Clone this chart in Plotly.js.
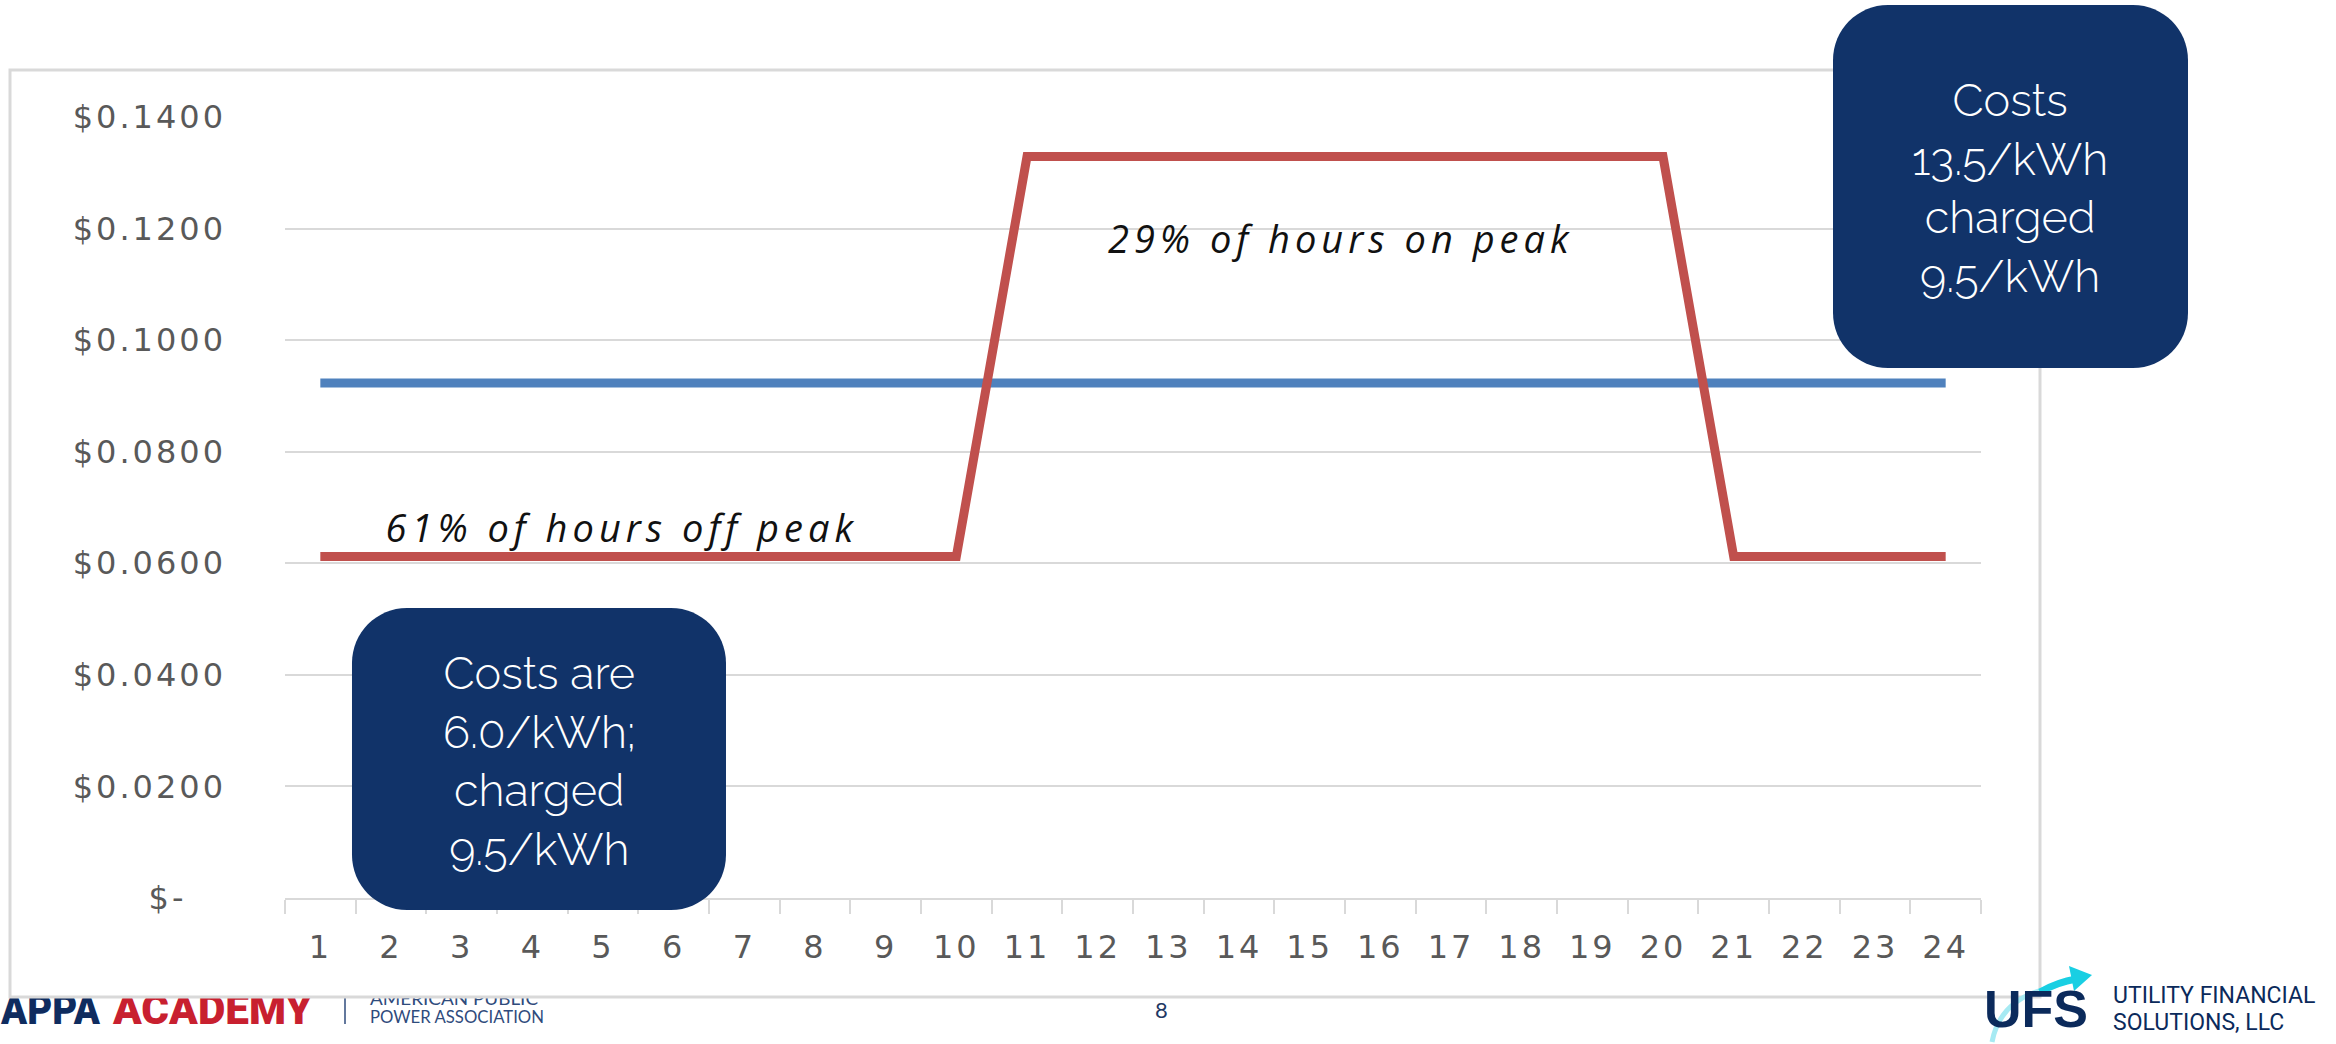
<!DOCTYPE html>
<html><head><meta charset="utf-8">
<script src="https://cdn.plot.ly/plotly-3.0.1.min.js"></script>
<style>
html,body{margin:0;padding:0;background:#fff;overflow:hidden}
#bg{position:absolute;left:0;top:0;z-index:0}
#chart{position:absolute;left:0;top:0;width:2336px;height:1044px;z-index:1}
.xtick text,.ytick text{letter-spacing:3px}
.annotation[data-index="0"] text,.annotation[data-index="1"] text{letter-spacing:5px}
</style></head><body>
<svg id="bg" width="2336" height="1044" xmlns="http://www.w3.org/2000/svg">
<text x="1" y="1024" font-family="Roboto, 'Liberation Sans', sans-serif" font-weight="900" font-size="42" fill="#0F2C5F" textLength="99" lengthAdjust="spacingAndGlyphs">APPA</text>
<text x="113" y="1024" font-family="Roboto, 'Liberation Sans', sans-serif" font-weight="900" font-size="42" fill="#C8202F" textLength="199" lengthAdjust="spacingAndGlyphs">ACADEMY</text>
<line x1="345" y1="996" x2="345" y2="1024" stroke="#2F4B7C" stroke-width="1.5"/>
<text x="370" y="1005" font-family="Lato, sans-serif" font-size="18" fill="#2F4B7C" textLength="168" lengthAdjust="spacingAndGlyphs">AMERICAN PUBLIC</text>
<text x="370" y="1023" font-family="Lato, sans-serif" font-size="18" fill="#2F4B7C" textLength="174" lengthAdjust="spacingAndGlyphs">POWER ASSOCIATION</text>
</svg>
<div id="chart"></div>
<script>
// ---- data ----
const hours = ['1','2','3','4','5','6','7','8','9','10','11','12','13','14','15','16','17','18','19','20','21','22','23','24'];
const flatRate = [0.0923,0.0923,0.0923,0.0923,0.0923,0.0923,0.0923,0.0923,0.0923,0.0923,0.0923,0.0923,0.0923,0.0923,0.0923,0.0923,0.0923,0.0923,0.0923,0.0923,0.0923,0.0923,0.0923,0.0923];
const touRate = [0.0612,0.0612,0.0612,0.0612,0.0612,0.0612,0.0612,0.0612,0.0612,0.0612,0.1329,0.1329,0.1329,0.1329,0.1329,0.1329,0.1329,0.1329,0.1329,0.1329,0.0612,0.0612,0.0612,0.0612];
const yTickVals = [0,0.02,0.04,0.06,0.08,0.10,0.12,0.14];
const yTickText = ['$-\u00a0\u00a0\u00a0','$0.0200','$0.0400','$0.0600','$0.0800','$0.1000','$0.1200','$0.1400'];
const offPeakLabel = '61% of hours off peak';
const onPeakLabel = '29% of hours on peak';
const box1Text = 'Costs are<br>6.0/kWh;<br>charged<br>9.5/kWh';
const box2Text = 'Costs<br>13.5/kWh<br>charged<br>9.5/kWh';

// ---- layout geometry ----
const W=2336,H=1044,L=285,R=1981,T=117,B=898;
const px2x = p => (p-L)/(R-L);
const px2y = p => (B-p)/(B-T);
function toPaper(d){
  const t=d.trim().split(/\s+/); const out=[]; let isX=true;
  for(const s of t){
    if(/^[A-Za-z]$/.test(s)){out.push(s);isX=true;}
    else{const v=parseFloat(s); out.push(isX?px2x(v).toFixed(5):px2y(v).toFixed(5)); isX=!isX;}
  }
  return out.join(' ');
}
function roundRect(x0,y0,x1,y1,r){
  const k=0.5523*r;
  return toPaper(`M ${x0+r} ${y0} L ${x1-r} ${y0} C ${x1-r+k} ${y0} ${x1} ${y0+r-k} ${x1} ${y0+r} L ${x1} ${y1-r} C ${x1} ${y1-r+k} ${x1-r+k} ${y1} ${x1-r} ${y1} L ${x0+r} ${y1} C ${x0+r-k} ${y1} ${x0} ${y1-r+k} ${x0} ${y1-r} L ${x0} ${y0+r} C ${x0} ${y0+r-k} ${x0+r-k} ${y0} ${x0+r} ${y0} Z`);
}
const navy='#113369';
const tickFont={family:'DejaVu Sans, sans-serif',size:32,color:'#595959'};

const traces=[
  {x:hours,y:flatRate,type:'scatter',mode:'lines',line:{color:'#4F81BD',width:9},hoverinfo:'skip'},
  {x:hours,y:touRate,type:'scatter',mode:'lines',line:{color:'#C0504D',width:9},hoverinfo:'skip'}
];

const layout={
  width:W,height:H,
  margin:{l:L,r:W-R,t:T,b:H-B,pad:0},
  paper_bgcolor:'rgba(0,0,0,0)',plot_bgcolor:'rgba(0,0,0,0)',
  showlegend:false,
  xaxis:{type:'category',range:[-0.5,23.5],showline:true,linecolor:'#D9D9D9',linewidth:2,
    ticks:'outside',tickson:'boundaries',ticklen:14,tickwidth:2,tickcolor:'#D9D9D9',
    ticklabelstandoff:20,tickfont:tickFont,showgrid:false,zeroline:false,fixedrange:true},
  yaxis:{range:[0,0.14],tickmode:'array',tickvals:yTickVals,ticktext:yTickText,
    showgrid:true,gridcolor:'#D9D9D9',gridwidth:2,zeroline:false,showline:false,ticks:'',
    ticklabelstandoff:58,tickfont:tickFont,fixedrange:true},
  shapes:[
    {type:'rect',xref:'paper',yref:'paper',x0:px2x(10),x1:px2x(2040),y0:px2y(997),y1:px2y(70),
      line:{color:'#D9D9D9',width:3},fillcolor:'#ffffff',layer:'below'},
    {type:'path',xref:'paper',yref:'paper',path:roundRect(352,608,726,910,55),fillcolor:navy,line:{width:0},layer:'above'},
    {type:'path',xref:'paper',yref:'paper',path:roundRect(1833,5,2188,368,55),fillcolor:navy,line:{width:0},layer:'above'},
    {type:'path',xref:'paper',yref:'paper',path:toPaper('M 1992 1042 Q 2000 1000 2046 989'),line:{color:'#A6EAF3',width:5},layer:'above'},
    {type:'path',xref:'paper',yref:'paper',path:toPaper('M 2040 992 Q 2058 982 2076 979'),line:{color:'#19CFE3',width:7},layer:'above'},
    {type:'path',xref:'paper',yref:'paper',path:toPaper('M 2069 966 L 2092 975 L 2074 991 Z'),fillcolor:'#19CFE3',line:{width:0},layer:'above'}
  ],
  annotations:[
    {xref:'paper',yref:'paper',x:px2x(622),y:px2y(527),text:offPeakLabel,showarrow:false,xanchor:'center',yanchor:'middle',
      font:{family:'Open Sans, sans-serif',size:38,color:'#111111',style:'italic'}},
    {xref:'paper',yref:'paper',x:px2x(1341),y:px2y(238),text:onPeakLabel,showarrow:false,xanchor:'center',yanchor:'middle',
      font:{family:'Open Sans, sans-serif',size:38,color:'#111111',style:'italic'}},
    {xref:'paper',yref:'paper',x:px2x(539),y:px2y(761),text:box1Text,showarrow:false,xanchor:'center',yanchor:'middle',align:'center',
      font:{family:'Raleway, Lato, sans-serif',size:45,color:'#ffffff',weight:300}},
    {xref:'paper',yref:'paper',x:px2x(2010),y:px2y(189),text:box2Text,showarrow:false,xanchor:'center',yanchor:'middle',align:'center',
      font:{family:'Raleway, Lato, sans-serif',size:45,color:'#ffffff',weight:300}},
    {xref:'paper',yref:'paper',x:px2x(1161),y:px2y(1009),text:'8',showarrow:false,xanchor:'center',yanchor:'middle',
      font:{family:'Lato, sans-serif',size:22,color:'#1F3864'}},
    {xref:'paper',yref:'paper',x:px2x(2036),y:px2y(1009),text:'<b>UFS</b>',showarrow:false,xanchor:'center',yanchor:'middle',
      font:{family:'Liberation Sans, Arial, sans-serif',size:52,color:'#0B2A5B'}},
    {xref:'paper',yref:'paper',x:px2x(2111),y:px2y(996),text:'UTILITY FINANCIAL',showarrow:false,xanchor:'left',yanchor:'middle',
      font:{family:'Roboto, sans-serif',size:23,color:'#0B2A5B'}},
    {xref:'paper',yref:'paper',x:px2x(2111),y:px2y(1022),text:'SOLUTIONS, LLC',showarrow:false,xanchor:'left',yanchor:'middle',
      font:{family:'Roboto, sans-serif',size:23,color:'#0B2A5B'}}
  ]
};
Plotly.newPlot('chart',traces,layout,{staticPlot:true,displayModeBar:false});
</script>
</body></html>
